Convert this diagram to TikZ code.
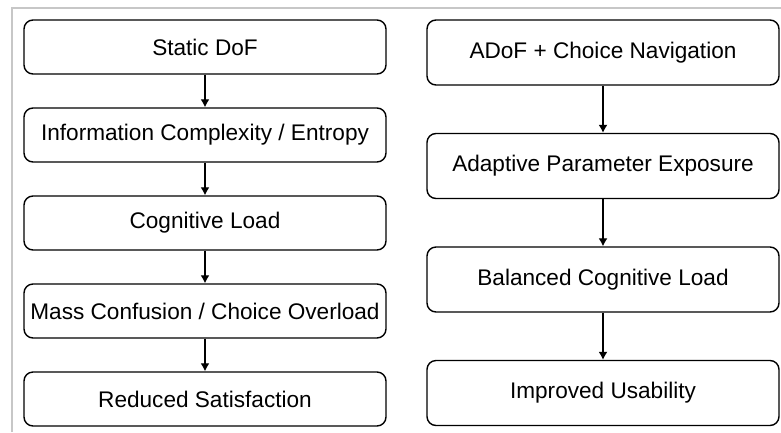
\documentclass[tikz,border=0pt]{standalone}
\usepackage{fontspec}
\setmainfont{Liberation Sans}
\usetikzlibrary{arrows.meta}
\tikzset{%
  >={Latex[width=9pt,length=8pt]},
  % Specifications for style of nodes:
         base/.style = {rectangle, rounded corners=9pt, draw=black,
                        line width=1.4pt, text centered,
                        font=\fontsize{22.6}{26}\selectfont},
      process/.style = {base, minimum width=362pt, minimum height=54pt},
     adaptive/.style = {base, minimum width=352pt, minimum height=65pt},
}

\begin{document}
\begin{tikzpicture}[x=1pt, y=-1pt, node distance=88pt]
  \useasboundingbox (0,0) rectangle (781,432);
  % grey frame (top and left edges only)
  \draw[black!22, line width=2pt] (12,432) -- (12,8) -- (782,8);

  % Specification of nodes: static column
  \node (staticDof)      [process] at (205,47) {Static DoF};
  \node (infoEntropy)    [process, below of=staticDof]   {Information Complexity / Entropy};
  \node (cognitiveLoad)  [process, below of=infoEntropy] {Cognitive Load};
  \node (massConfusion)  [process, below of=cognitiveLoad]
                         {Mass Confusion / Choice Overload};
  \node (reducedSatisf)  [process, below of=massConfusion] {Reduced Satisfaction};

  % adaptive column
  \node (adofNav)        [adaptive, right of=staticDof, xshift=310pt, yshift=-5.5pt]
                         {ADoF + Choice Navigation};
  \node (adaptiveParam)  [adaptive, below of=adofNav, yshift=-25.5pt]
                         {Adaptive Parameter Exposure};
  \node (balancedLoad)   [adaptive, below of=adaptiveParam, yshift=-25.5pt]
                         {Balanced Cognitive Load};
  \node (improvedUse)    [adaptive, below of=balancedLoad, yshift=-25.5pt]
                         {Improved Usability};

  % Specification of lines between nodes
  \draw[->, line width=1.3pt] (staticDof) to (infoEntropy);
  \draw[->, line width=1.3pt] (infoEntropy) to (cognitiveLoad);
  \draw[->, line width=1.3pt] (cognitiveLoad) to (massConfusion);
  \draw[->, line width=1.3pt] (massConfusion) to (reducedSatisf);

  \draw[->, line width=1.3pt] (adofNav) to (adaptiveParam);
  \draw[->, line width=1.3pt] (adaptiveParam) to (balancedLoad);
  \draw[->, line width=1.3pt] (balancedLoad) to (improvedUse);
\end{tikzpicture}
\end{document}
